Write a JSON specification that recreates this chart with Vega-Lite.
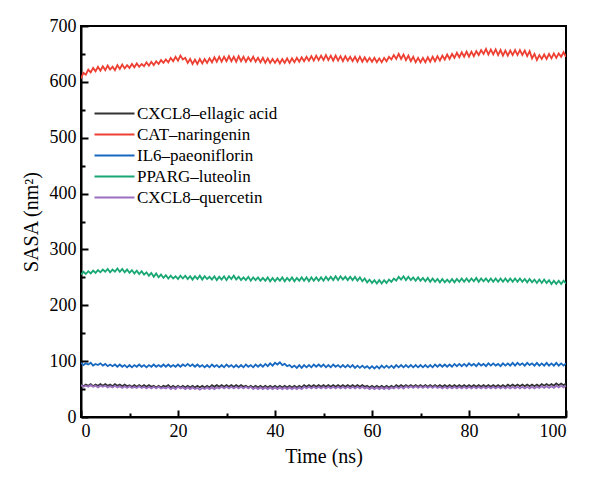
{
  "$schema": "https://vega.github.io/schema/vega-lite/v6.json",
  "width": 485,
  "height": 391,
  "autosize": "none",
  "padding": {"left": 81, "top": 26, "right": 34, "bottom": 65},
  "background": "white",
  "config": {
    "font": "Liberation Serif",
    "view": {"stroke": "black", "strokeWidth": 2},
    "axis": {
      "domainColor": "black",
      "domainWidth": 2,
      "tickColor": "black",
      "tickWidth": 2,
      "grid": false,
      "labelColor": "black",
      "labelFont": "Liberation Serif",
      "labelFontSize": 18,
      "titleColor": "black",
      "titleFont": "Liberation Serif",
      "titleFontSize": 20,
      "titleFontWeight": "normal"
    },
    "legend": {"labelFont": "Liberation Serif"}
  },
  "datasets": {
    "names": [
      {"k": "a", "series": "CXCL8–ellagic acid"},
      {"k": "b", "series": "CAT–naringenin"},
      {"k": "c", "series": "IL6–paeoniflorin"},
      {"k": "d", "series": "PPARG–luteolin"},
      {"k": "e", "series": "CXCL8–quercetin"}
    ],
    "sasa": [
      {"t":0,"a":58,"b":606,"c":97,"d":255,"e":57},
      {"t":0.5,"a":55,"b":616,"c":93,"d":260,"e":54},
      {"t":1,"a":58,"b":613,"c":96,"d":256,"e":56},
      {"t":1.5,"a":56,"b":622,"c":94,"d":261,"e":54},
      {"t":2,"a":59,"b":617,"c":97,"d":257,"e":57},
      {"t":2.5,"a":55,"b":625,"c":92,"d":262,"e":54},
      {"t":3,"a":58,"b":619,"c":95,"d":258,"e":56},
      {"t":3.5,"a":56,"b":627,"c":93,"d":263,"e":53},
      {"t":4,"a":59,"b":620,"c":96,"d":259,"e":56},
      {"t":4.5,"a":56,"b":628,"c":92,"d":264,"e":54},
      {"t":5,"a":59,"b":621,"c":95,"d":260,"e":56},
      {"t":5.5,"a":56,"b":629,"c":91,"d":265,"e":53},
      {"t":6,"a":58,"b":622,"c":94,"d":259,"e":55},
      {"t":6.5,"a":55,"b":627,"c":91,"d":264,"e":53},
      {"t":7,"a":59,"b":621,"c":94,"d":260,"e":56},
      {"t":7.5,"a":56,"b":630,"c":90,"d":266,"e":53},
      {"t":8,"a":58,"b":623,"c":94,"d":260,"e":55},
      {"t":8.5,"a":55,"b":631,"c":90,"d":265,"e":52},
      {"t":9,"a":58,"b":624,"c":93,"d":259,"e":55},
      {"t":9.5,"a":55,"b":630,"c":89,"d":264,"e":52},
      {"t":10,"a":57,"b":625,"c":93,"d":258,"e":55},
      {"t":10.5,"a":54,"b":632,"c":89,"d":263,"e":52},
      {"t":11,"a":57,"b":626,"c":93,"d":257,"e":54},
      {"t":11.5,"a":54,"b":633,"c":90,"d":262,"e":52},
      {"t":12,"a":57,"b":627,"c":94,"d":256,"e":55},
      {"t":12.5,"a":54,"b":632,"c":90,"d":261,"e":52},
      {"t":13,"a":57,"b":628,"c":93,"d":255,"e":54},
      {"t":13.5,"a":54,"b":635,"c":89,"d":259,"e":51},
      {"t":14,"a":57,"b":629,"c":93,"d":253,"e":54},
      {"t":14.5,"a":54,"b":636,"c":90,"d":258,"e":51},
      {"t":15,"a":56,"b":630,"c":94,"d":251,"e":54},
      {"t":15.5,"a":53,"b":637,"c":90,"d":257,"e":51},
      {"t":16,"a":56,"b":632,"c":93,"d":250,"e":54},
      {"t":16.5,"a":53,"b":639,"c":90,"d":255,"e":51},
      {"t":17,"a":56,"b":634,"c":94,"d":249,"e":53},
      {"t":17.5,"a":54,"b":640,"c":90,"d":254,"e":51},
      {"t":18,"a":57,"b":635,"c":94,"d":248,"e":54},
      {"t":18.5,"a":53,"b":643,"c":90,"d":253,"e":50},
      {"t":19,"a":56,"b":637,"c":93,"d":248,"e":53},
      {"t":19.5,"a":53,"b":645,"c":90,"d":252,"e":50},
      {"t":20,"a":56,"b":638,"c":94,"d":247,"e":54},
      {"t":20.5,"a":53,"b":647,"c":90,"d":253,"e":51},
      {"t":21,"a":56,"b":640,"c":94,"d":248,"e":53},
      {"t":21.5,"a":53,"b":643,"c":91,"d":253,"e":50},
      {"t":22,"a":56,"b":634,"c":95,"d":247,"e":53},
      {"t":22.5,"a":53,"b":641,"c":91,"d":252,"e":50},
      {"t":23,"a":56,"b":632,"c":94,"d":246,"e":53},
      {"t":23.5,"a":53,"b":640,"c":90,"d":252,"e":50},
      {"t":24,"a":56,"b":632,"c":94,"d":247,"e":52},
      {"t":24.5,"a":53,"b":641,"c":90,"d":253,"e":49},
      {"t":25,"a":56,"b":633,"c":93,"d":246,"e":52},
      {"t":25.5,"a":53,"b":641,"c":89,"d":252,"e":50},
      {"t":26,"a":56,"b":634,"c":93,"d":247,"e":53},
      {"t":26.5,"a":53,"b":642,"c":89,"d":251,"e":50},
      {"t":27,"a":57,"b":635,"c":94,"d":246,"e":53},
      {"t":27.5,"a":54,"b":644,"c":90,"d":252,"e":50},
      {"t":28,"a":57,"b":636,"c":93,"d":245,"e":53},
      {"t":28.5,"a":54,"b":645,"c":89,"d":251,"e":51},
      {"t":29,"a":57,"b":636,"c":93,"d":246,"e":54},
      {"t":29.5,"a":54,"b":645,"c":89,"d":252,"e":51},
      {"t":30,"a":57,"b":637,"c":94,"d":245,"e":54},
      {"t":30.5,"a":54,"b":646,"c":90,"d":252,"e":51},
      {"t":31,"a":57,"b":637,"c":93,"d":247,"e":54},
      {"t":31.5,"a":54,"b":645,"c":89,"d":253,"e":51},
      {"t":32,"a":57,"b":636,"c":93,"d":246,"e":54},
      {"t":32.5,"a":54,"b":646,"c":89,"d":251,"e":51},
      {"t":33,"a":57,"b":637,"c":93,"d":245,"e":54},
      {"t":33.5,"a":54,"b":645,"c":89,"d":250,"e":51},
      {"t":34,"a":56,"b":636,"c":94,"d":245,"e":54},
      {"t":34.5,"a":53,"b":644,"c":90,"d":251,"e":51},
      {"t":35,"a":56,"b":637,"c":93,"d":244,"e":54},
      {"t":35.5,"a":53,"b":645,"c":89,"d":250,"e":50},
      {"t":36,"a":56,"b":636,"c":94,"d":245,"e":53},
      {"t":36.5,"a":53,"b":643,"c":90,"d":250,"e":50},
      {"t":37,"a":56,"b":635,"c":94,"d":244,"e":53},
      {"t":37.5,"a":53,"b":643,"c":90,"d":249,"e":50},
      {"t":38,"a":56,"b":634,"c":95,"d":244,"e":53},
      {"t":38.5,"a":53,"b":642,"c":91,"d":250,"e":50},
      {"t":39,"a":56,"b":634,"c":96,"d":243,"e":53},
      {"t":39.5,"a":53,"b":641,"c":92,"d":249,"e":50},
      {"t":40,"a":56,"b":634,"c":97,"d":243,"e":53},
      {"t":40.5,"a":53,"b":641,"c":94,"d":249,"e":50},
      {"t":41,"a":56,"b":633,"c":98,"d":244,"e":53},
      {"t":41.5,"a":53,"b":641,"c":93,"d":250,"e":50},
      {"t":42,"a":56,"b":634,"c":95,"d":243,"e":53},
      {"t":42.5,"a":53,"b":642,"c":91,"d":249,"e":50},
      {"t":43,"a":56,"b":634,"c":93,"d":244,"e":53},
      {"t":43.5,"a":53,"b":642,"c":89,"d":250,"e":50},
      {"t":44,"a":56,"b":635,"c":92,"d":243,"e":53},
      {"t":44.5,"a":53,"b":643,"c":88,"d":249,"e":50},
      {"t":45,"a":56,"b":636,"c":93,"d":244,"e":53},
      {"t":45.5,"a":53,"b":644,"c":88,"d":250,"e":50},
      {"t":46,"a":57,"b":637,"c":93,"d":244,"e":54},
      {"t":46.5,"a":54,"b":645,"c":89,"d":250,"e":51},
      {"t":47,"a":57,"b":638,"c":93,"d":243,"e":54},
      {"t":47.5,"a":54,"b":646,"c":89,"d":250,"e":51},
      {"t":48,"a":57,"b":638,"c":94,"d":244,"e":54},
      {"t":48.5,"a":54,"b":647,"c":90,"d":250,"e":51},
      {"t":49,"a":57,"b":639,"c":94,"d":244,"e":54},
      {"t":49.5,"a":54,"b":647,"c":90,"d":250,"e":51},
      {"t":50,"a":57,"b":639,"c":94,"d":244,"e":54},
      {"t":50.5,"a":54,"b":648,"c":89,"d":251,"e":51},
      {"t":51,"a":57,"b":639,"c":93,"d":245,"e":54},
      {"t":51.5,"a":54,"b":647,"c":89,"d":251,"e":51},
      {"t":52,"a":57,"b":638,"c":94,"d":245,"e":54},
      {"t":52.5,"a":54,"b":647,"c":90,"d":252,"e":51},
      {"t":53,"a":57,"b":638,"c":93,"d":245,"e":54},
      {"t":53.5,"a":54,"b":646,"c":89,"d":252,"e":51},
      {"t":54,"a":57,"b":637,"c":93,"d":246,"e":54},
      {"t":54.5,"a":54,"b":646,"c":89,"d":251,"e":51},
      {"t":55,"a":57,"b":638,"c":93,"d":245,"e":54},
      {"t":55.5,"a":54,"b":645,"c":89,"d":251,"e":51},
      {"t":56,"a":57,"b":637,"c":93,"d":245,"e":54},
      {"t":56.5,"a":54,"b":645,"c":88,"d":251,"e":51},
      {"t":57,"a":57,"b":636,"c":92,"d":244,"e":54},
      {"t":57.5,"a":54,"b":645,"c":88,"d":250,"e":51},
      {"t":58,"a":57,"b":636,"c":92,"d":243,"e":54},
      {"t":58.5,"a":54,"b":644,"c":88,"d":248,"e":51},
      {"t":59,"a":56,"b":636,"c":91,"d":241,"e":53},
      {"t":59.5,"a":53,"b":643,"c":87,"d":246,"e":50},
      {"t":60,"a":56,"b":636,"c":91,"d":240,"e":53},
      {"t":60.5,"a":53,"b":643,"c":87,"d":245,"e":50},
      {"t":61,"a":56,"b":635,"c":91,"d":239,"e":53},
      {"t":61.5,"a":53,"b":642,"c":87,"d":245,"e":50},
      {"t":62,"a":56,"b":635,"c":92,"d":239,"e":53},
      {"t":62.5,"a":53,"b":643,"c":88,"d":245,"e":50},
      {"t":63,"a":56,"b":637,"c":92,"d":240,"e":53},
      {"t":63.5,"a":53,"b":645,"c":88,"d":246,"e":50},
      {"t":64,"a":56,"b":640,"c":92,"d":242,"e":53},
      {"t":64.5,"a":53,"b":648,"c":88,"d":248,"e":51},
      {"t":65,"a":57,"b":641,"c":93,"d":244,"e":54},
      {"t":65.5,"a":54,"b":650,"c":89,"d":251,"e":51},
      {"t":66,"a":57,"b":641,"c":93,"d":246,"e":54},
      {"t":66.5,"a":54,"b":649,"c":89,"d":252,"e":51},
      {"t":67,"a":57,"b":639,"c":93,"d":245,"e":55},
      {"t":67.5,"a":54,"b":647,"c":89,"d":251,"e":52},
      {"t":68,"a":57,"b":637,"c":93,"d":245,"e":55},
      {"t":68.5,"a":54,"b":645,"c":89,"d":250,"e":52},
      {"t":69,"a":57,"b":635,"c":93,"d":244,"e":55},
      {"t":69.5,"a":54,"b":643,"c":89,"d":250,"e":52},
      {"t":70,"a":57,"b":635,"c":93,"d":244,"e":55},
      {"t":70.5,"a":54,"b":643,"c":89,"d":249,"e":52},
      {"t":71,"a":57,"b":635,"c":93,"d":243,"e":55},
      {"t":71.5,"a":54,"b":644,"c":89,"d":249,"e":52},
      {"t":72,"a":57,"b":636,"c":93,"d":242,"e":55},
      {"t":72.5,"a":54,"b":645,"c":89,"d":248,"e":52},
      {"t":73,"a":57,"b":637,"c":94,"d":242,"e":55},
      {"t":73.5,"a":54,"b":646,"c":90,"d":247,"e":52},
      {"t":74,"a":57,"b":638,"c":94,"d":241,"e":54},
      {"t":74.5,"a":54,"b":647,"c":90,"d":247,"e":51},
      {"t":75,"a":57,"b":640,"c":94,"d":241,"e":54},
      {"t":75.5,"a":54,"b":649,"c":90,"d":246,"e":51},
      {"t":76,"a":57,"b":641,"c":94,"d":241,"e":54},
      {"t":76.5,"a":54,"b":650,"c":90,"d":247,"e":51},
      {"t":77,"a":57,"b":643,"c":95,"d":241,"e":54},
      {"t":77.5,"a":54,"b":652,"c":91,"d":247,"e":51},
      {"t":78,"a":57,"b":644,"c":95,"d":242,"e":54},
      {"t":78.5,"a":54,"b":653,"c":91,"d":248,"e":51},
      {"t":79,"a":57,"b":645,"c":95,"d":242,"e":54},
      {"t":79.5,"a":54,"b":654,"c":91,"d":248,"e":51},
      {"t":80,"a":57,"b":645,"c":96,"d":242,"e":54},
      {"t":80.5,"a":54,"b":654,"c":92,"d":248,"e":51},
      {"t":81,"a":57,"b":646,"c":95,"d":243,"e":54},
      {"t":81.5,"a":54,"b":655,"c":91,"d":249,"e":51},
      {"t":82,"a":57,"b":648,"c":96,"d":242,"e":54},
      {"t":82.5,"a":54,"b":657,"c":92,"d":248,"e":51},
      {"t":83,"a":57,"b":650,"c":95,"d":243,"e":54},
      {"t":83.5,"a":54,"b":659,"c":91,"d":248,"e":51},
      {"t":84,"a":57,"b":649,"c":96,"d":242,"e":54},
      {"t":84.5,"a":54,"b":658,"c":92,"d":248,"e":51},
      {"t":85,"a":57,"b":649,"c":96,"d":242,"e":54},
      {"t":85.5,"a":54,"b":658,"c":92,"d":248,"e":51},
      {"t":86,"a":57,"b":648,"c":95,"d":242,"e":54},
      {"t":86.5,"a":54,"b":657,"c":91,"d":248,"e":51},
      {"t":87,"a":57,"b":647,"c":96,"d":242,"e":54},
      {"t":87.5,"a":54,"b":656,"c":92,"d":248,"e":51},
      {"t":88,"a":58,"b":647,"c":96,"d":242,"e":54},
      {"t":88.5,"a":55,"b":656,"c":92,"d":248,"e":51},
      {"t":89,"a":58,"b":648,"c":97,"d":242,"e":54},
      {"t":89.5,"a":55,"b":657,"c":92,"d":248,"e":51},
      {"t":90,"a":58,"b":648,"c":97,"d":242,"e":54},
      {"t":90.5,"a":55,"b":657,"c":93,"d":248,"e":51},
      {"t":91,"a":58,"b":648,"c":96,"d":242,"e":54},
      {"t":91.5,"a":55,"b":656,"c":92,"d":247,"e":51},
      {"t":92,"a":58,"b":646,"c":97,"d":241,"e":54},
      {"t":92.5,"a":55,"b":655,"c":93,"d":247,"e":51},
      {"t":93,"a":58,"b":642,"c":96,"d":241,"e":54},
      {"t":93.5,"a":55,"b":650,"c":92,"d":246,"e":51},
      {"t":94,"a":58,"b":639,"c":97,"d":240,"e":54},
      {"t":94.5,"a":55,"b":648,"c":92,"d":246,"e":52},
      {"t":95,"a":59,"b":641,"c":96,"d":240,"e":55},
      {"t":95.5,"a":56,"b":649,"c":92,"d":246,"e":52},
      {"t":96,"a":59,"b":641,"c":97,"d":240,"e":55},
      {"t":96.5,"a":56,"b":650,"c":92,"d":245,"e":52},
      {"t":97,"a":59,"b":642,"c":96,"d":238,"e":55},
      {"t":97.5,"a":56,"b":651,"c":92,"d":244,"e":52},
      {"t":98,"a":60,"b":643,"c":97,"d":238,"e":56},
      {"t":98.5,"a":57,"b":651,"c":92,"d":244,"e":53},
      {"t":99,"a":60,"b":645,"c":96,"d":238,"e":56},
      {"t":99.5,"a":57,"b":653,"c":92,"d":244,"e":53},
      {"t":100,"a":60,"b":645,"c":96,"d":239,"e":56}
    ]
  },
  "data": {"name": "sasa"},
  "transform": [
    {"fold": ["a", "b", "c", "d", "e"], "as": ["k", "sasa"]},
    {"lookup": "k", "from": {"data": {"name": "names"}, "key": "k", "fields": ["series"]}}
  ],
  "layer": [
    {
      "mark": {"type": "line", "strokeWidth": 1.8, "clip": true},
      "encoding": {
        "x": {
          "field": "t", "type": "quantitative",
          "scale": {"domain": [0, 100], "nice": false},
          "axis": {"values": [0, 20, 40, 60, 80, 100], "title": "Time (ns)", "tickSize": -7, "labelPadding": 12, "titlePadding": 6, "labelFont": "Liberation Serif", "titleFont": "Liberation Serif"}
        },
        "y": {
          "field": "sasa", "type": "quantitative",
          "scale": {"domain": [0, 700], "nice": false},
          "axis": {"values": [0, 100, 200, 300, 400, 500, 600, 700], "title": "SASA (nm²)", "tickSize": -7, "labelPadding": 12, "titlePadding": 8, "labelFont": "Liberation Serif", "titleFont": "Liberation Serif"}
        },
        "color": {
          "field": "series", "type": "nominal",
          "scale": {
            "domain": ["CXCL8–ellagic acid", "CAT–naringenin", "IL6–paeoniflorin", "PPARG–luteolin", "CXCL8–quercetin"],
            "range": ["#333333", "#ee3f33", "#1668c0", "#19a873", "#9b6fc0"]
          },
          "legend": {
            "orient": "none", "legendX": 10, "legendY": 79,
            "title": null,
            "symbolType": "M-1,0H7", "symbolSize": 100, "symbolStrokeWidth": 2,
            "labelFontSize": 17, "labelFont": "Liberation Serif", "labelColor": "black",
            "labelOffset": 29, "rowPadding": 3
          }
        }
      }
    },
    {
      "mark": {"type": "point", "opacity": 0},
      "encoding": {
        "x": {
          "field": "t", "type": "quantitative",
          "axis": {"orient": "bottom", "values": [10, 30, 50, 70, 90], "labels": false, "title": null, "tickSize": -4, "domain": false}
        },
        "y": {
          "field": "sasa", "type": "quantitative",
          "axis": {"orient": "left", "values": [50, 150, 250, 350, 450, 550, 650], "labels": false, "title": null, "tickSize": -4, "domain": false}
        }
      }
    }
  ],
  "resolve": {"axis": {"x": "independent", "y": "independent"}}
}
